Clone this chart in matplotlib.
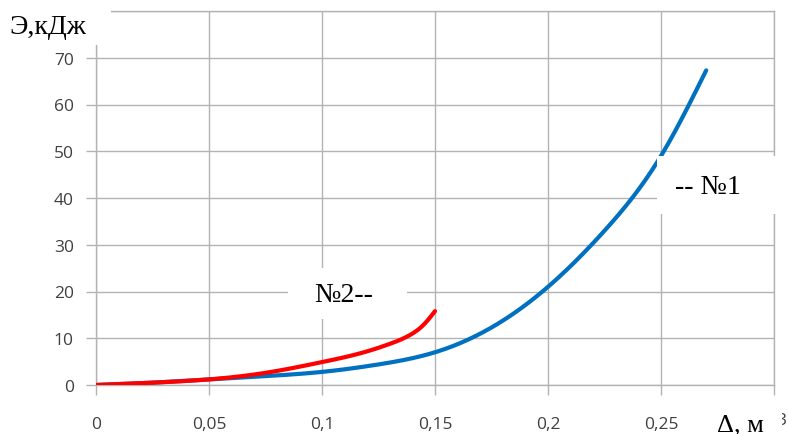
import matplotlib
matplotlib.use("Agg")
import matplotlib.pyplot as plt
from matplotlib.patches import Rectangle
import numpy as np

# Data
x1 = [0, 0.025, 0.05, 0.075, 0.1, 0.125, 0.15, 0.175, 0.2, 0.225, 0.25, 0.27]
y1 = [0, 0.5, 1.2, 1.9, 2.8, 4.4, 7.0, 12.3, 21.0, 33.0, 49.0, 67.3]
x2 = [0, 0.025, 0.05, 0.075, 0.1, 0.12, 0.13, 0.14, 0.145, 0.15]
y2 = [0, 0.5, 1.2, 2.6, 4.9, 7.2, 8.8, 11.0, 12.9, 15.8]
xticks = [0, 0.05, 0.1, 0.15, 0.2, 0.25, 0.3]
xticklabels = ["0", "0,05", "0,1", "0,15", "0,2", "0,25", ""]
yticks = [0, 10, 20, 30, 40, 50, 60, 70, 80]
yticklabels = ["0", "10", "20", "30", "40", "50", "60", "70", ""]

W, H = 788, 435
fig = plt.figure(figsize=(W / 100, H / 100), dpi=100)
ax = fig.add_axes([96 / W, 1 - 386 / H, (774 - 96) / W, (386 - 12) / H])

def smooth(x, y, n=400):
    # natural cubic spline through the read points, for a smooth drawing
    x = np.asarray(x, float); y = np.asarray(y, float)
    k = len(x); h = np.diff(x)
    A = np.zeros((k, k)); b = np.zeros(k)
    A[0, 0] = A[-1, -1] = 1
    for i in range(1, k - 1):
        A[i, i - 1] = h[i - 1]; A[i, i] = 2 * (h[i - 1] + h[i]); A[i, i + 1] = h[i]
        b[i] = 6 * ((y[i + 1] - y[i]) / h[i] - (y[i] - y[i - 1]) / h[i - 1])
    M = np.linalg.solve(A, b)
    xs = np.linspace(x[0], x[-1], n)
    idx = np.clip(np.searchsorted(x, xs) - 1, 0, k - 2)
    xi, xj, hi = x[idx], x[idx + 1], h[idx]
    ys = (M[idx] * (xj - xs) ** 3 / (6 * hi) + M[idx + 1] * (xs - xi) ** 3 / (6 * hi)
          + (y[idx] / hi - M[idx] * hi / 6) * (xj - xs)
          + (y[idx + 1] / hi - M[idx + 1] * hi / 6) * (xs - xi))
    return xs, ys

gc = "#b3b3b3"
xs, ys = smooth(x1, y1)
ax.plot(xs, ys, color="#0070C0", lw=3.0, solid_capstyle="round", zorder=3)
xs, ys = smooth(x2, y2)
ax.plot(xs, ys, color="#FF0000", lw=3.0, solid_capstyle="round", zorder=4)

ax.set_xlim(0, 0.3)
ax.set_ylim(0, 80)
ax.set_xticks(xticks)
ax.set_xticklabels(xticklabels)
ax.set_yticks(yticks)
ax.set_yticklabels(yticklabels)
ax.grid(True, color=gc, lw=1.0)
ax.set_axisbelow(True)
for s in ax.spines.values():
    s.set_color(gc)
    s.set_linewidth(1.0)
ax.tick_params(axis="both", colors=gc, length=7, width=1.0, labelcolor="#404040",
               labelsize=12.5)
ax.tick_params(axis="x", pad=15)
ax.tick_params(axis="y", pad=9)
for lab in ax.get_xticklabels() + ax.get_yticklabels():
    lab.set_fontfamily("Open Sans")

# white label boxes (figure pixel coords, top-left origin)
def box(x0, y0, x1_, y1_):
    fig.add_artist(Rectangle((x0 / W, 1 - y1_ / H), (x1_ - x0) / W, (y1_ - y0) / H,
                             transform=fig.transFigure, facecolor="white",
                             edgecolor="none", zorder=10))

box(0, 0, 111, 46)
box(680, 400, 782, 435)
box(657, 157, 786, 215)
box(288, 269, 407, 320)

# fragment of the hidden "0,3" tick label peeking out at the right edge
fig.text(776 / W, 1 - 421 / H, "3", fontsize=12.5, family="Open Sans", color="#404040",
         va="center", ha="left", zorder=9)

serif = "Liberation Serif"
fig.text(9 / W, 1 - 27 / H, "Э,кДж", fontsize=20, family=serif, va="center", ha="left", zorder=11)
fig.text(740 / W, 1 - 425 / H, "Δ, м", fontsize=19, family=serif, va="center", ha="center", zorder=11)
fig.text(708 / W, 1 - 188 / H, "-- №1", fontsize=20, family=serif, va="center", ha="center", zorder=11)
fig.text(344 / W, 1 - 296 / H, "№2--", fontsize=20, family=serif, va="center", ha="center", zorder=11)

fig.savefig("out.png", dpi=100)
